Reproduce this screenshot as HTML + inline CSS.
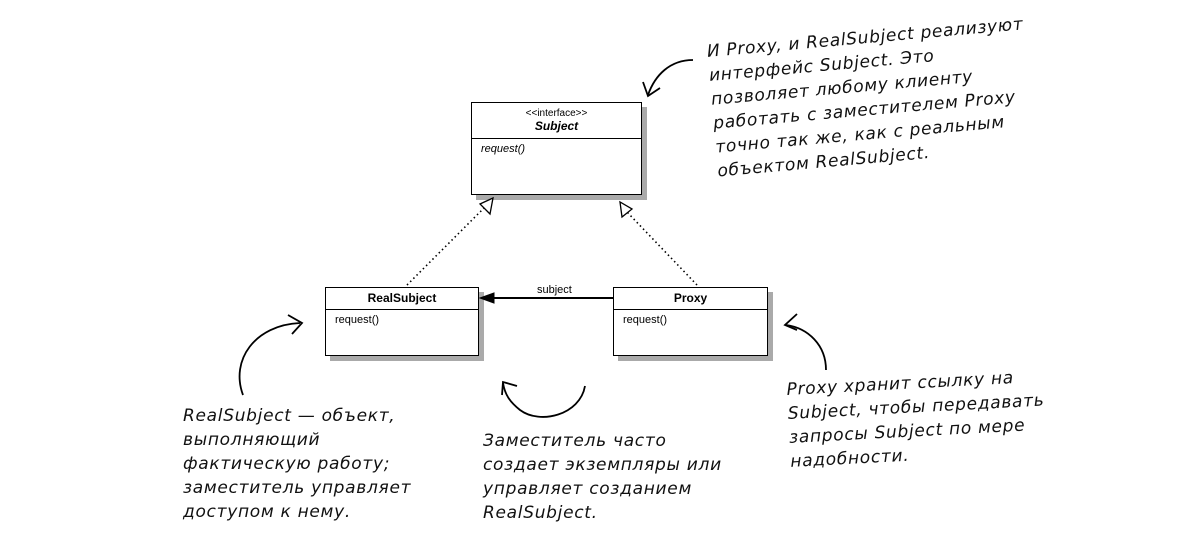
<!DOCTYPE html>
<html><head><meta charset="utf-8"><style>
body{margin:0;width:1189px;height:548px;background:#fff;position:relative;overflow:hidden;font-family:"Liberation Sans",sans-serif}
.box{position:absolute;border:1px solid #000;background:#fff;box-shadow:5px 5px 0 #aaa}
.hd{border-bottom:1px solid #000;text-align:center;font-size:12px;font-weight:bold}
.op{font-size:11px;padding:4px 0 0 9px}
.note{position:absolute;font-family:"DejaVu Sans",sans-serif;font-style:italic;font-size:17px;line-height:24px;color:#111;white-space:nowrap;letter-spacing:0.7px}
</style></head><body>
<div class="box" style="left:471px;top:102px;width:169px;height:91px">
 <div class="hd" style="height:36px;font-weight:normal;font-size:10px;line-height:13px;padding-top:4px;box-sizing:border-box">&lt;&lt;interface&gt;&gt;<br><b style="font-size:12px;font-style:italic">Subject</b></div>
 <div class="op" style="font-style:italic">request()</div>
</div>
<div class="box" style="left:325px;top:287px;width:152px;height:67px">
 <div class="hd" style="height:21px;line-height:21px">RealSubject</div>
 <div class="op">request()</div>
</div>
<div class="box" style="left:613px;top:287px;width:153px;height:67px">
 <div class="hd" style="height:21px;line-height:21px">Proxy</div>
 <div class="op">request()</div>
</div>
<svg width="1189" height="548" style="position:absolute;left:0;top:0" fill="none" stroke="#000">
 <line x1="407" y1="285" x2="484" y2="208" stroke-width="1.6" stroke-dasharray="1.5,3"/>
 <polygon points="493,198 480,204 490,214" fill="#fff" stroke-width="1.3"/>
 <line x1="697" y1="285" x2="628" y2="213" stroke-width="1.6" stroke-dasharray="1.5,3"/>
 <polygon points="620,202 622,217 632,209" fill="#fff" stroke-width="1.3"/>
 <line x1="613" y1="298" x2="490" y2="298" stroke-width="2"/>
 <polygon points="480,298 494,293 494,303" fill="#000"/>
 <path d="M693,60 C670,60 655,75 648,95" stroke-width="1.8"/>
 <path d="M643,82 L648,96 L660,88" stroke-width="1.8"/>
 <path d="M243,395 C230,360 255,325 300,323" stroke-width="1.8"/>
 <path d="M288,315 L302,323 L292,334" stroke-width="1.8"/>
 <path d="M585,386 C580,415 540,425 520,410 C510,402 505,395 503,383" stroke-width="1.8"/>
 <path d="M502,395 L503,382 L517,386" stroke-width="1.8"/>
 <path d="M826,370 C826,345 808,328 786,325" stroke-width="1.8"/>
 <path d="M797,314 L785,325 L797,330" stroke-width="1.8"/>
</svg>
<div style="position:absolute;left:537px;top:284px;font-size:11px">subject</div>
<div class="note" style="left:706px;top:40px;transform:rotate(-5deg);transform-origin:0 0">И Proxy, и RealSubject реализуют<br>интерфейс Subject. Это<br>позволяет любому клиенту<br>работать с заместителем Proxy<br>точно так же, как с реальным<br>объектом RealSubject.</div>
<div class="note" style="left:183px;top:404px">RealSubject — объект,<br>выполняющий<br>фактическую работу;<br>заместитель управляет<br>доступом к нему.</div>
<div class="note" style="left:483px;top:429px">Заместитель часто<br>создает экземпляры или<br>управляет созданием<br>RealSubject.</div>
<div class="note" style="left:786px;top:378px;transform:rotate(-3deg);transform-origin:0 0">Proxy хранит ссылку на<br>Subject, чтобы передавать<br>запросы Subject по мере<br>надобности.</div>
</body></html>
